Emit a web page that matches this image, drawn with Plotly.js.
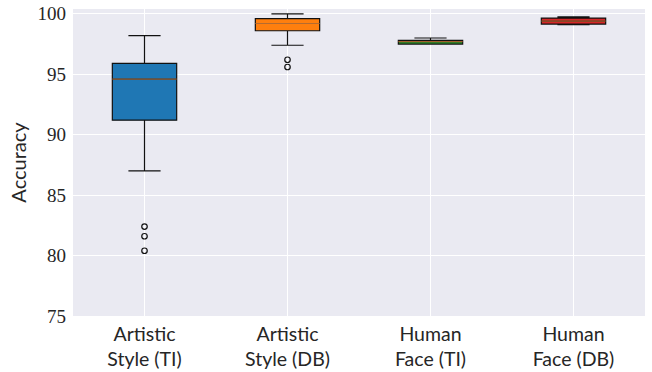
<!DOCTYPE html>
<html>
<head>
<meta charset="utf-8">
<script src="https://cdn.plot.ly/plotly-3.0.1.min.js"></script>
<style>html,body{margin:0;padding:0;background:#fff;}#chart{width:652px;height:372px;}</style>
</head>
<body>
<div id="chart"></div>
<script>
// Data
const categories = ["Artistic<br>Style (TI)", "Artistic<br>Style (DB)", "Human<br>Face (TI)", "Human<br>Face (DB)"];
const positions = [1, 2, 3, 4];
const lowerWhisker = [87.0, 97.4, 97.5, 99.1];
const q1 = [91.2, 98.6, 97.5, 99.15];
const median = [94.6, 99.2, 97.7, 99.4];
const q3 = [95.9, 99.6, 97.8, 99.65];
const upperWhisker = [98.2, 100.0, 98.0, 99.75];
const outlierX = [1, 1, 1, 2, 2];
const outlierY = [82.4, 81.6, 80.4, 96.2, 95.6];
const colors = ["#1f77b4", "#ff7f0e", "#2ca02c", "#d62728"];
const yTicks = [75, 80, 85, 90, 95, 100];

const boxWidth = 0.45;
const traces = [];
positions.forEach((p, i) => {
  traces.push({
    type: "box",
    x: [p],
    q1: [q1[i]], median: [median[i]], q3: [q3[i]],
    lowerfence: [lowerWhisker[i]], upperfence: [upperWhisker[i]],
    width: boxWidth,
    whiskerwidth: 0.5,
    fillcolor: colors[i],
    line: {color: "#111111", width: 1.2},
    hoverinfo: "skip",
    showlegend: false
  });
});
// median lines (matplotlib default orange)
positions.forEach((p, i) => {
  traces.push({
    type: "scatter", mode: "lines",
    x: [p - boxWidth / 2, p + boxWidth / 2],
    y: [median[i], median[i]],
    line: {color: "#e8873a", width: 0.9},
    opacity: 0.85,
    hoverinfo: "skip", showlegend: false
  });
});
traces.push({
  type: "scatter", mode: "markers",
  x: outlierX, y: outlierY,
  marker: {symbol: "circle-open", size: 5.5, color: "#111111", line: {width: 1.2, color: "#111111"}},
  hoverinfo: "skip", showlegend: false
});

const layout = {
  width: 652, height: 372,
  margin: {l: 73, r: 7, t: 9, b: 56, pad: 0},
  paper_bgcolor: "#ffffff",
  plot_bgcolor: "#eaeaf2",
  showlegend: false,
  xaxis: {
    range: [0.5, 4.5],
    tickmode: "array", tickvals: positions, ticktext: categories,
    showgrid: true, gridcolor: "#ffffff", gridwidth: 1,
    zeroline: false, showline: false, ticks: "",
    ticklabelstandoff: 4,
    tickfont: {family: "Lato, 'DejaVu Sans', sans-serif", size: 19.5, color: "#262626"},
    fixedrange: true
  },
  yaxis: {
    range: [75, 100.4],
    tickmode: "array", tickvals: yTicks, ticktext: yTicks.map(String),
    showgrid: true, gridcolor: "#ffffff", gridwidth: 1,
    zeroline: false, showline: false, ticks: "",
    ticklabelstandoff: 6,
    tickfont: {family: "'Liberation Serif', serif", size: 19, color: "#262626"},
    title: {text: "Accuracy", font: {family: "Lato, 'DejaVu Sans', sans-serif", size: 20, color: "#262626"}, standoff: 5},
    automargin: false,
    fixedrange: true
  }
};

Plotly.newPlot("chart", traces, layout, {displayModeBar: false, staticPlot: true});
</script>
</body>
</html>
